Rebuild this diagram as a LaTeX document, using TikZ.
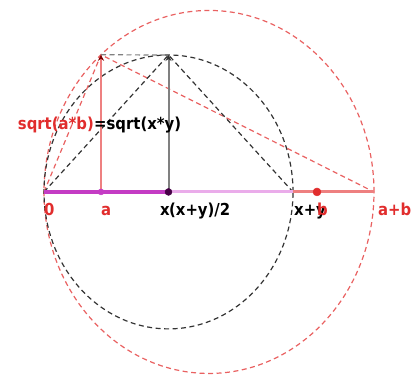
\documentclass[tikz,border=0pt]{standalone}
\usepackage{fontspec}
\setmainfont{DejaVu Sans}
\newfontfamily\estrecha{DejaVu Sans Condensed}
\usetikzlibrary{arrows.meta}
\definecolor{rojo}{RGB}{225,45,45}
\definecolor{rosa}{RGB}{238,128,128}
\definecolor{malva}{RGB}{196,60,196}
\definecolor{lila}{RGB}{234,172,234}
\definecolor{morado}{RGB}{70,0,70}
\tikzset{
  etiqueta/.style={font=\estrecha\fontsize{16.5}{19}\selectfont\bfseries, inner sep=0pt, anchor=base west},
  trazo/.style={dash pattern=on 5pt off 3.5pt, line width=1.2pt},
}
\begin{document}
\begin{tikzpicture}[x=1pt,y=1.1pt]
            \useasboundingbox (-44,-173.6) rectangle (369,174.5);
            % Puntos del eje
            \coordinate (O) at (0,0);
            \coordinate (A) at (57,0);
            \coordinate (X) at (124.5,0);
            \coordinate (S) at (249,0);
            \coordinate (B) at (273,0);
            \coordinate (AB) at (330,0);
            \coordinate (Cr) at (165,0);
            % Extremos de las medias geometricas
            \coordinate (P) at (57,124.7);
            \coordinate (Q) at (124.5,124.5);

            % Circulos de diametro a+b y x+y
            \draw[trazo, rojo!75] (Cr) circle (165);
            \draw[trazo, black!80] (X) circle (124.5);

            % Triangulos rectangulos
            \draw[trazo, rojo!75] (O) -- (P) -- (AB);
            \draw[trazo, black!80] (O) -- (Q) -- (S);
            \draw[trazo, gray] (P) -- (Q);

            % Segmentos sobre el eje
            \draw[line width=3pt, rosa] (S) -- (AB);
            \draw[line width=3pt, lila] (X) -- (S);
            \draw[line width=4pt, malva] (O) -- (X);

            % Alturas
            \draw[line width=2pt, rosa, -{Stealth[length=6pt,width=6pt,red!50!black]}] (A) -- (P);
            \draw[line width=2pt, gray, -{Stealth[length=6pt,width=6pt,black!80]}] (X) -- (Q);

            % Puntos
            \filldraw[malva] (A) circle (3pt);
            \filldraw[morado] (X) circle (3.5pt);
            \filldraw[rojo] (B) circle (4pt);

            % Etiquetas
            \node[etiqueta, rojo] (l0) at (0,-21) {0};
            \node[etiqueta, rojo] (la) at (57,-21) {a};
            \node[etiqueta] (lx) at (116,-21) {x};
            \node[etiqueta] (lm) at (125,-21) {(x+y)/2};
            \node[etiqueta] (ls) at (250,-21) {x+y};
            \node[etiqueta, rojo] (lb) at (273,-21) {b};
            \node[etiqueta, rojo] (lab) at (334,-21) {a+b};
            \node[etiqueta, rojo, anchor=base east] (lab2) at (50,56.4) {sqrt(a*b)};
            \node[etiqueta] (lxy) at (50,56.4) {=sqrt(x*y)};
\end{tikzpicture}
\end{document}
